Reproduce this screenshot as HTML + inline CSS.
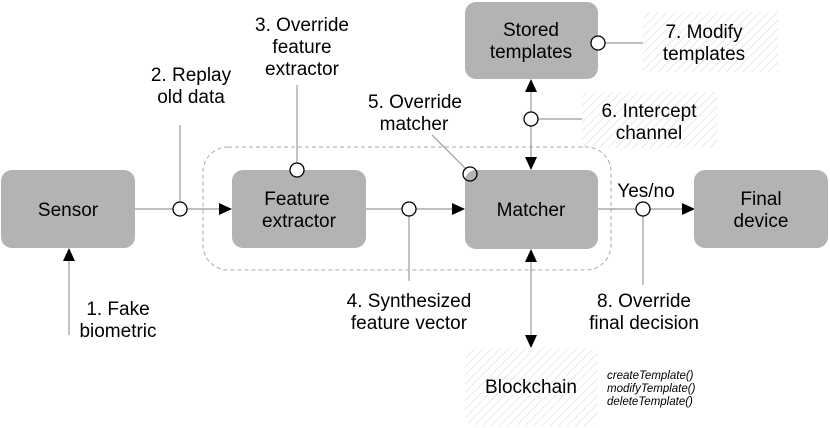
<!DOCTYPE html>
<html><head><meta charset="utf-8"><style>
html,body{margin:0;padding:0;background:#fff;}
svg{display:block;}
text{font-family:"Liberation Sans",sans-serif;fill:#000;}
</style></head><body>
<svg width="830" height="428" viewBox="0 0 830 428" xmlns="http://www.w3.org/2000/svg">
<defs>
<pattern id="h" width="6" height="6" patternUnits="userSpaceOnUse" patternTransform="rotate(45)">
<rect width="6" height="6" fill="#fff"/>
<line x1="0" y1="0" x2="0" y2="6" stroke="#d4d4d4" stroke-width="1"/>
</pattern>
<marker id="a" markerWidth="13" markerHeight="12" refX="12" refY="6" orient="auto" markerUnits="userSpaceOnUse">
<path d="M0,0 L13,6 L0,12 z" fill="#000"/>
</marker>
<marker id="as" markerWidth="13" markerHeight="12" refX="12" refY="6" orient="auto-start-reverse" markerUnits="userSpaceOnUse">
<path d="M0,0 L13,6 L0,12 z" fill="#000"/>
</marker>
</defs>
<rect x="643" y="12" width="135" height="60" fill="url(#h)"/>
<rect x="582" y="92" width="135" height="56" fill="url(#h)"/>
<rect x="465" y="348" width="133" height="78" rx="10" fill="url(#h)"/>
<rect x="203" y="147" width="408" height="123" rx="25" fill="none" stroke="#aaa" stroke-dasharray="4,3"/>
<g stroke="#999" stroke-width="1.2" fill="none">
<line x1="135" y1="209" x2="231" y2="209" marker-end="url(#a)"/>
<line x1="366" y1="209" x2="464" y2="209" marker-end="url(#a)"/>
<line x1="598" y1="209" x2="694" y2="209" marker-end="url(#a)"/>
<line x1="69" y1="335" x2="69" y2="249" marker-end="url(#a)"/>
<line x1="531" y1="80" x2="531" y2="169" marker-start="url(#as)" marker-end="url(#as)"/>
<line x1="531" y1="250" x2="531" y2="347" marker-start="url(#as)" marker-end="url(#as)"/>
<line x1="180" y1="209" x2="180" y2="125"/>
<line x1="297" y1="170" x2="297" y2="85"/>
<line x1="409" y1="209" x2="409" y2="281"/>
<line x1="643" y1="209" x2="643" y2="285"/>
<line x1="432" y1="135" x2="470" y2="173"/>
<line x1="531" y1="119" x2="582" y2="119"/>
<line x1="598" y1="43" x2="643" y2="43"/>
</g>
<circle cx="470" cy="174" r="7" fill="#fff"/>
<g fill="#b3b3b3">
<rect x="1" y="170" width="134" height="78" rx="11"/>
<rect x="232" y="170" width="134" height="78" rx="11"/>
<rect x="465" y="170" width="133" height="79" rx="11"/>
<rect x="694" y="170" width="134" height="78" rx="11"/>
<rect x="465" y="2" width="133" height="77" rx="11"/>
</g>
<g stroke="#000" stroke-width="1.3">
<circle cx="180" cy="209" r="7" fill="#fff"/>
<circle cx="409" cy="209" r="7" fill="#fff"/>
<circle cx="643" cy="209" r="7" fill="#fff"/>
<circle cx="297" cy="170" r="7" fill="#fff"/>
<circle cx="531" cy="119" r="7" fill="#fff"/>
<circle cx="598" cy="43" r="7" fill="#fff"/>
<circle cx="470" cy="174" r="7" fill="none"/>
</g>
<g font-size="19" text-anchor="middle">
<text x="68" y="216">Sensor</text>
<text x="297" y="205">Feature</text>
<text x="299" y="227">extractor</text>
<text x="531" y="216">Matcher</text>
<text x="761" y="205">Final</text>
<text x="761" y="227">device</text>
<text x="531" y="36">Stored</text>
<text x="531" y="58">templates</text>
<text x="531" y="393">Blockchain</text>
</g>
<g font-size="19" text-anchor="middle">
<text x="191" y="81">2. Replay</text>
<text x="191" y="103">old data</text>
<text x="302" y="31">3. Override</text>
<text x="302" y="53">feature</text>
<text x="302" y="75">extractor</text>
<text x="415" y="108">5. Override</text>
<text x="414" y="130">matcher</text>
<text x="409" y="307">4. Synthesized</text>
<text x="409" y="329">feature vector</text>
<text x="118" y="315">1. Fake</text>
<text x="118" y="337">biometric</text>
<text x="644" y="307">8. Override</text>
<text x="644" y="329">final decision</text>
<text x="646" y="197">Yes/no</text>
<text x="704" y="38">7. Modify</text>
<text x="704" y="60">templates</text>
<text x="649" y="117">6. Intercept</text>
<text x="649" y="139">channel</text>
</g>
<g font-size="11.5" font-style="italic">
<text x="607" y="379">createTemplate()</text>
<text x="607" y="392">modifyTemplate()</text>
<text x="607" y="405">deleteTemplate()</text>
</g>
</svg>
</body></html>
